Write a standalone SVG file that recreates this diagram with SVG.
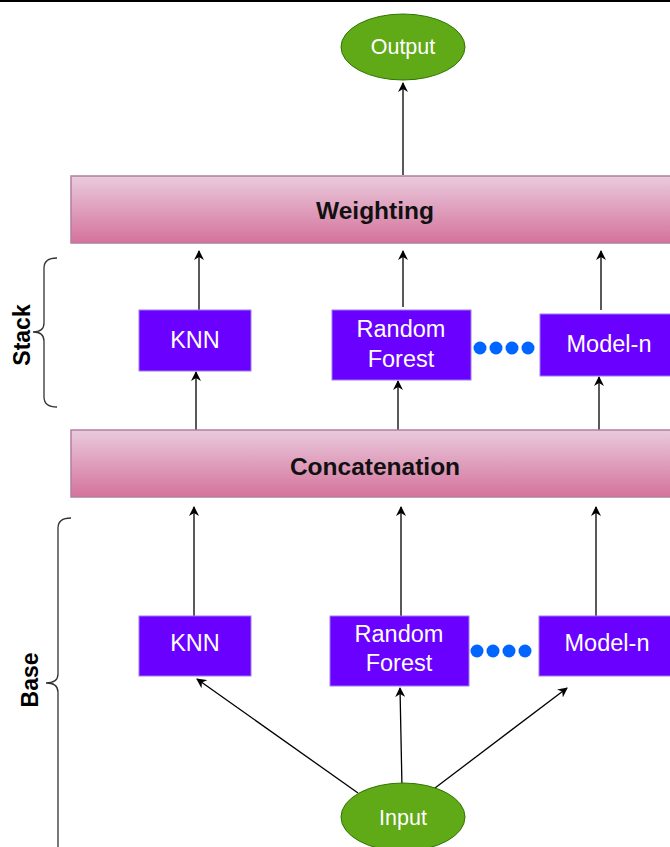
<svg xmlns="http://www.w3.org/2000/svg" width="670" height="847" viewBox="0 0 670 847">
  <style>
    .model { fill: #6a00ff; stroke: #9b7cf0; stroke-width: 1; }
    .model-text { fill: #ffffff; font-family: "Liberation Sans", Arial, sans-serif; font-size: 23.5px; text-anchor: middle; }
    .layer { fill: url(#layerFill); stroke: #b07f9f; stroke-width: 1.5; }
    .layer-text { fill: #111111; font-family: "Liberation Sans", Arial, sans-serif; font-size: 24.5px; font-weight: bold; text-anchor: middle; }
    .term { fill: #60a917; stroke: #2d7600; stroke-width: 1; }
    .term-text { fill: #ffffff; font-family: "Liberation Sans", Arial, sans-serif; font-size: 21.5px; text-anchor: middle; }
    .edge { stroke: #000000; stroke-width: 1.3; fill: none; marker-end: url(#arrow); }
    .brace { stroke: #333333; stroke-width: 1.3; fill: none; }
    .side-label { fill: #000000; font-family: "Liberation Sans", Arial, sans-serif; font-size: 23px; font-weight: bold; text-anchor: middle; }
    .dot { fill: #0066ff; }
  </style>
  <defs>
    <linearGradient id="layerFill" x1="0" y1="0" x2="0" y2="1">
      <stop offset="0" stop-color="#e9cbdc"/>
      <stop offset="1" stop-color="#d5729c"/>
    </linearGradient>
    <marker id="arrow" viewBox="0 0 10 10" refX="9" refY="5" markerWidth="10" markerHeight="10" markerUnits="userSpaceOnUse" orient="auto">
      <path d="M0,0 L10,5 L0,10 L3,5 Z" fill="#000000"/>
    </marker>
  </defs>

  <rect width="670" height="847" fill="#ffffff"/>
  <line x1="0" y1="1" x2="670" y2="1" stroke="#000000" stroke-width="2"/>

  <g id="connectors">
    <!-- weighting to output -->
    <line class="edge" x1="403" y1="175" x2="403" y2="83"/>
    <!-- stack models to weighting -->
    <line class="edge" x1="199" y1="310" x2="199" y2="251"/>
    <line class="edge" x1="403" y1="307" x2="403" y2="251"/>
    <line class="edge" x1="601" y1="310" x2="601" y2="251"/>
    <!-- concatenation to stack models -->
    <line class="edge" x1="196" y1="432" x2="196" y2="372"/>
    <line class="edge" x1="398" y1="435" x2="398" y2="381"/>
    <line class="edge" x1="599" y1="432" x2="599" y2="377"/>
    <!-- base models to concatenation -->
    <line class="edge" x1="194" y1="616" x2="194" y2="507"/>
    <line class="edge" x1="401" y1="616" x2="401" y2="507"/>
    <line class="edge" x1="596" y1="616" x2="596" y2="507"/>
    <!-- input to base models -->
    <line class="edge" x1="358" y1="793" x2="197" y2="679"/>
    <line class="edge" x1="402" y1="788" x2="400" y2="688"/>
    <line class="edge" x1="431" y1="791" x2="567" y2="688"/>
  </g>

  <g id="output">
    <ellipse class="term" cx="403" cy="47" rx="62" ry="33"/>
    <text class="term-text" x="403" y="54">Output</text>
  </g>

  <g id="weighting">
    <rect class="layer" x="71" y="176" width="610" height="67"/>
    <text class="layer-text" x="375" y="219">Weighting</text>
  </g>

  <g id="stack-brace">
    <path class="brace" d="M57,258 Q44,258 44,268 L44,323 Q44,332 33,332 Q44,332 44,341 L44,397 Q44,407 57,407"/>
    <text class="side-label" transform="translate(30,335) rotate(-90)">Stack</text>
  </g>

  <g id="stack-knn">
    <rect class="model" x="139" y="310" width="112" height="61"/>
    <text class="model-text" x="195" y="348">KNN</text>
  </g>
  <g id="stack-rf">
    <rect class="model" x="332" y="310" width="139" height="70"/>
    <text class="model-text" x="401" y="337">Random</text>
    <text class="model-text" x="401" y="367">Forest</text>
  </g>
  <g id="stack-dots">
    <circle class="dot" cx="480" cy="348" r="6.5"/>
    <circle class="dot" cx="496" cy="348" r="6.5"/>
    <circle class="dot" cx="512" cy="348" r="6.5"/>
    <circle class="dot" cx="528" cy="348" r="6.5"/>
  </g>
  <g id="stack-model-n">
    <rect class="model" x="540" y="314" width="140" height="62"/>
    <text class="model-text" x="609" y="352">Model-n</text>
  </g>

  <g id="concatenation">
    <rect class="layer" x="71" y="430" width="610" height="67"/>
    <text class="layer-text" x="375" y="475">Concatenation</text>
  </g>

  <g id="base-brace">
    <path class="brace" d="M71,518 Q58,518 58,528 L58,674 Q58,683 46,683 Q58,683 58,692 L58,847"/>
    <text class="side-label" transform="translate(38,680) rotate(-90)">Base</text>
  </g>

  <g id="base-knn">
    <rect class="model" x="139" y="616" width="112" height="60"/>
    <text class="model-text" x="195" y="651">KNN</text>
  </g>
  <g id="base-rf">
    <rect class="model" x="330" y="616" width="139" height="70"/>
    <text class="model-text" x="399" y="642">Random</text>
    <text class="model-text" x="399" y="671">Forest</text>
  </g>
  <g id="base-dots">
    <circle class="dot" cx="477" cy="651" r="6.5"/>
    <circle class="dot" cx="493" cy="651" r="6.5"/>
    <circle class="dot" cx="509" cy="651" r="6.5"/>
    <circle class="dot" cx="525" cy="651" r="6.5"/>
  </g>
  <g id="base-model-n">
    <rect class="model" x="539" y="616" width="141" height="60"/>
    <text class="model-text" x="607" y="651">Model-n</text>
  </g>

  <g id="input">
    <ellipse class="term" cx="403" cy="817" rx="62" ry="34"/>
    <text class="term-text" x="403" y="825">Input</text>
  </g>
</svg>
